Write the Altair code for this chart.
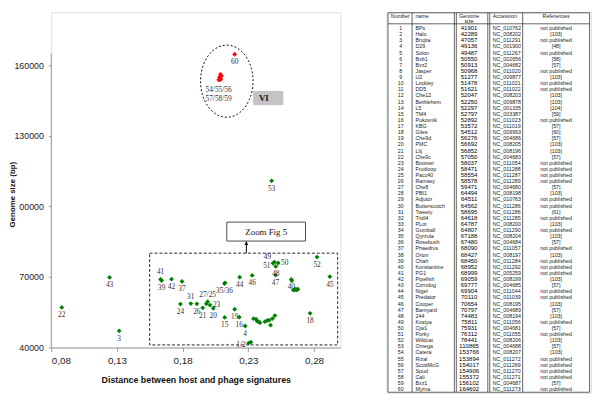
import altair as alt
import pandas as pd

# ---------------- data ----------------
numbers = list(range(1, 61))
names = ["BPs", "Halo", "Brujita", "D29", "Solon", "Bxb1", "Bxz2", "Jasper", "U2", "Lockley",
         "DD5", "Che12", "Bethlehem", "L5", "TM4", "Pukovnik", "KBG", "Giles", "Che9d", "PMC",
         "Llij", "Che9c", "Boomer", "Fruitloop", "Pacc40", "Ramsey", "Che8", "PBI1", "Adjutor", "Butterscotch",
         "Tweety", "Troll4", "PLot", "Gumball", "Qyrzula", "Rosebush", "Phaedrus", "Orion", "Chah", "Konstantine",
         "PG1", "Pipefish", "Corndog", "Nigel", "Predator", "Cooper", "Barnyard", "244", "Kostya", "Cjw1",
         "Porky", "Wildcat", "Omega", "Catera", "Rizal", "ScottMcG", "Spud", "Cali", "Bxz1", "Myrna"]
genome_sizes = [41901, 42289, 47057, 49136, 49487, 50550, 50913, 50968, 51277, 51478,
                51621, 52047, 52250, 52297, 52797, 52892, 53572, 54512, 56276, 56692,
                56852, 57050, 58037, 58471, 58554, 58578, 59471, 64494, 64511, 64562,
                58695, 64618, 64787, 64807, 67188, 67480, 68090, 68427, 68450, 68952,
                68999, 69059, 69777, 69904, 70110, 70654, 70797, 74483, 75811, 75931,
                76312, 78441, 110865, 153766, 153894, 154017, 154906, 155372, 156102, 164602]
accessions = ["NC_010762", "NC_008202", "NC_011291", "NC_001900", "NC_011267", "NC_002656", "NC_004682", "NC_011020", "NC_009877", "NC_011021",
              "NC_011022", "NC_008203", "NC_009878", "NC_001335", "NC_003387", "NC_011023", "NC_011019", "NC_009993", "NC_004686", "NC_008205",
              "NC_008196", "NC_004683", "NC_011054", "NC_011288", "NC_011287", "NC_011289", "NC_004680", "NC_008198", "NC_010763", "NC_011286",
              "NC_011286", "NC_011285", "NC_008200", "NC_011290", "NC_008204", "NC_004684", "NC_011057", "NC_008197", "NC_011284", "NC_011292",
              "NC_005259", "NC_008199", "NC_004685", "NC_011044", "NC_011039", "NC_008195", "NC_004689", "NC_008194", "NC_011056", "NC_004681",
              "NC_011055", "NC_008206", "NC_004688", "NC_008207", "NC_011272", "NC_011269", "NC_011270", "NC_011271", "NC_004687", "NC_011273"]
NP = "not published"
references = [NP, "[103]", NP, "[48]", NP, "[58]", "[57]", NP, "[103]", NP,
              NP, "[103]", "[103]", "[104]", "[59]", NP, "[57]", "[60]", "[57]", "[103]",
              "[103]", "[57]", NP, NP, NP, NP, "[57]", "[103]", NP, NP,
              "[61]", NP, "[103]", NP, "[103]", "[57]", NP, "[103]", NP, NP,
              NP, "[103]", "[57]", NP, NP, "[103]", "[57]", "[103]", NP, "[57]",
              NP, "[103]", "[57]", "[103]", NP, NP, NP, NP, "[57]", NP]
# distance between host and phage signatures
distances = [0.2302, 0.2319, 0.1317, 0.2276, 0.2469, 0.2389, 0.2379, 0.2426, 0.2366, 0.2444,
             0.2459, 0.2359, 0.2339, 0.2484, 0.2120, 0.2231, 0.2502, 0.2770, 0.2196, 0.2033,
             0.1953, 0.0880, 0.2008, 0.1783, 0.1980, 0.1908, 0.1990, 0.2642, 0.2653, 0.2665,
             0.1862, 0.2672, 0.2657, 0.2677, 0.2118, 0.2123, 0.1795, 0.2631, 0.1640, 0.2627,
             0.1632, 0.1715, 0.1244, 0.2234, 0.2920, 0.2329, 0.2507, 0.2509, 0.2488, 0.2527,
             0.2499, 0.2823, 0.2477, 0.2075, 0.2085, 0.2090, 0.2080, 0.2095, 0.2088, 0.2196]
cluster_VI = [54, 55, 56, 57, 58, 59, 60]

label_texts = ["1/2", "3", "4", "15", "16", "18", "19", "20", "21", "22", "23", "24", "26", "27/25", "31",
               "35/36", "37", "39", "40", "41", "42", "43", "44", "45", "46", "47", "48", "49", "50", "51",
               "52", "53", "54/55/56", "57/58/59", "60"]
label_anchors = [1, 3, 4, 15, 16, 18, 19, 20, 21, 22, 23, 24, 26, 27, 31,
                 35, 37, 39, 40, 41, 42, 43, 44, 45, 46, 47, 48, 49, 50, 51,
                 52, 53, 54, 54, 60]
label_places = ["left", "below", "below", "below", "below", "below", "below", "below", "below", "below",
                "right", "below", "below", "above", "above",
                "below", "below", "below", "below", "above", "below", "below", "below", "below", "below",
                "below", "below", "upleft", "right", "downleft",
                "below", "below", "cluster1", "cluster2", "below"]

x_ticks = [0.08, 0.13, 0.18, 0.23, 0.28]
y_ticks = [40000, 70000, 100000, 130000, 160000]

x_title = "Distance between host and phage signatures"
y_title = "Genome size (bp)"

# ---------------- styles ----------------
GREEN = "#008000"
RED = "#ff0000"
AXIS_GREY = "#9a9a9a"
SANS = "Liberation Sans"
SERIF = "Liberation Serif"

PLACES = {
    "below": dict(align="center", dx=0, dy=8),
    "above": dict(align="center", dx=0, dy=-7),
    "right": dict(align="left", dx=3, dy=0),
    "left": dict(align="right", dx=-3, dy=2),
    "upleft": dict(align="right", dx=-2, dy=-6.5),
    "downleft": dict(align="right", dx=-4, dy=4.5),
    "cluster1": dict(align="left", dx=-13.5, dy=10),
    "cluster2": dict(align="left", dx=-13.5, dy=19),
}

# ---------------- scatter ----------------
pts = pd.DataFrame({"num": numbers, "x": distances, "y": genome_sizes})
pts["group"] = ["VI" if n in cluster_VI else "other" for n in numbers]

lab = pd.DataFrame({"text": label_texts, "num": label_anchors, "place": label_places})
lab = lab.merge(pts[["num", "x", "y"]], on="num", how="left")

xscale = alt.Scale(domain=[0.08, 0.30], nice=False, zero=False)
yscale = alt.Scale(domain=[40000, 182500], nice=False, zero=False)
xaxis = alt.Axis(title=x_title, values=x_ticks, grid=False,
                 labelExpr="replace(format(datum.value, '.2f'), '.', ',')",
                 domainColor=AXIS_GREY, tickColor=AXIS_GREY, tickSize=4,
                 labelFont=SANS, labelFontSize=10, labelColor="#222", labelPadding=4,
                 titleFont=SANS, titleFontSize=9, titleFontWeight="bold", titleColor="#111",
                 titleBaseline="top", titleY=29)
yaxis = alt.Axis(title=y_title, values=y_ticks, grid=False, domain=False,
                 labelExpr="datum.value == 100000 ? '00000' : format(datum.value, 'd')",
                 tickColor=AXIS_GREY, tickSize=3,
                 labelFont=SANS, labelFontSize=9, labelColor="#222", labelPadding=5,
                 titleFont=SANS, titleFontSize=8, titleFontWeight="bold", titleColor="#111",
                 titleBaseline="middle", titleX=-39, titleY=185)


def X(field):
    return alt.X(field, type="quantitative", scale=xscale, axis=xaxis)


def Y(field):
    return alt.Y(field, type="quantitative", scale=yscale, axis=yaxis)


# y axis line (only up to 165000 as in the reference)
yline = alt.Chart(pd.DataFrame({"x": [0.08], "y": [40000], "y2": [165000]})).mark_rule(
    color=AXIS_GREY, strokeWidth=1).encode(x=X("x"), y=Y("y"), y2="y2:Q")

# annotation shapes (data units)
zoom_region = alt.Chart(pd.DataFrame({"x": [0.1549], "x2": [0.2980], "y": [41100], "y2": [80100]})).mark_rect(
    fillOpacity=0, stroke="#222", strokeWidth=1, strokeDash=[3, 2]).encode(
    x=X("x"), x2="x2:Q", y=Y("y"), y2="y2:Q")

arrow = alt.Chart(pd.DataFrame({"x": [0.2285], "y": [80100], "y2": [85000]})).mark_rule(
    color="#000", strokeWidth=1).encode(x=X("x"), y=Y("y"), y2="y2:Q")
arrow_head = alt.Chart(pd.DataFrame({"x": [0.2285], "y": [84300]})).mark_point(
    shape="triangle-up", filled=True, color="#000", size=16, opacity=1).encode(x=X("x"), y=Y("y"))

zoom_box = alt.Chart(pd.DataFrame({"x": [0.2136], "x2": [0.2735], "y": [85250], "y2": [93300]})).mark_rect(
    fill="white", stroke="#222", strokeWidth=0.8).encode(x=X("x"), x2="x2:Q", y=Y("y"), y2="y2:Q")
zoom_text = alt.Chart(pd.DataFrame({"x": [0.2436], "y": [89275], "t": ["Zoom Fig 5"]})).mark_text(
    font=SERIF, fontSize=9, color="#111", baseline="middle", align="center").encode(
    x=X("x"), y=Y("y"), text="t:N")

k = 0.5523
a = 0.7275
ka = round(k * a, 4)
ellipse_path = (f"M 0 -1 C {ka} -1 {a} -{k} {a} 0 C {a} {k} {ka} 1 0 1 "
                f"C -{ka} 1 -{a} {k} -{a} 0 C -{a} -{k} -{ka} -1 0 -1 Z")
ellipse = alt.Chart(pd.DataFrame({"x": [0.2136], "y": [153200]})).mark_point(
    shape=ellipse_path, size=5388, filled=False, stroke="#111", strokeWidth=1,
    strokeDash=[2, 2], opacity=1).encode(x=X("x"), y=Y("y"))

vi_box = alt.Chart(pd.DataFrame({"x": [0.2336], "x2": [0.2566], "y": [143030], "y2": [149046]})).mark_rect(
    fill="#c4c4c4").encode(x=X("x"), x2="x2:Q", y=Y("y"), y2="y2:Q")
vi_text = alt.Chart(pd.DataFrame({"x": [0.2381], "y": [146036], "t": ["VI"]})).mark_text(
    font=SERIF, fontSize=9, fontWeight="bold", color="#111", baseline="middle", align="left").encode(
    x=X("x"), y=Y("y"), text="t:N")

points = alt.Chart(pts).mark_point(shape="diamond", filled=True, size=24, opacity=1).encode(
    x=X("x"), y=Y("y"),
    color=alt.Color("group:N", scale=alt.Scale(domain=["other", "VI"], range=[GREEN, RED]), legend=None))

label_layers = []
for place, style in PLACES.items():
    label_layers.append(
        alt.Chart(lab).transform_filter(alt.datum.place == place).mark_text(
            font=SERIF, fontSize=7.5, color="#333", baseline="middle", **style).encode(
            x=X("x"), y=Y("y"), text="text:N"))

scatter = alt.layer(yline, zoom_region, arrow, zoom_box, zoom_text, arrow_head, ellipse,
                    vi_box, vi_text, points, *label_layers).properties(width=294, height=341)

# ---------------- table ----------------
TW, TH = 208, 387
tx = alt.Scale(domain=[0, TW], nice=False, zero=False)
ty = alt.Scale(domain=[-1.5926, 60.572], reverse=True, nice=False, zero=False)

tbl = pd.DataFrame({"row": numbers, "num": [str(n) for n in numbers], "name": names,
                    "size": [str(s) for s in genome_sizes], "acc": accessions, "ref": references})

# column layout in table pixels: (field, x, align, font size, colour)
COLUMNS = [("num", 14.5, "center", 5.4, "#222"),
           ("name", 29.5, "left", 5.4, "#222"),
           ("size", 84, "center", 6.1, "#000"),
           ("acc", 108, "left", 5.4, "#222"),
           ("ref", 172.5, "center", 5.4, "#222")]
header = pd.DataFrame({"t": ["Number", "name", "Genome", "size", "Accession", "References"],
                       "x": [14, 29.5, 84, 84, 108, 172.5],
                       "row": [-1.04, -1.04, -1.04, -0.18, -1.04, -1.04],
                       "al": ["center", "left", "center", "center", "left", "center"]})
vlines = pd.DataFrame({"x": [1.5, 26, 69, 71, 103, 105, 138.5, 206.5],
                       "r1": [-1.512] * 8, "r2": [60.49] * 8})
hlines = pd.DataFrame({"x1": [1.5, 1.5, 1.5], "x2": [206.5, 206.5, 206.5], "r": [-1.512, 0.293, 60.49]})

tlayers = []
for field, cx, align, fs, col in COLUMNS:
    tlayers.append(alt.Chart(tbl).transform_calculate(cx=str(cx)).mark_text(
        font=SANS, fontSize=fs, color=col, align=align, baseline="middle").encode(
        x=alt.X("cx:Q", scale=tx, axis=None), y=alt.Y("row:Q", scale=ty, axis=None),
        text=f"{field}:N"))
for al in ["center", "left"]:
    tlayers.append(alt.Chart(header).transform_filter(alt.datum.al == al).mark_text(
        font=SANS, fontSize=5.4, color="#222", align=al, baseline="middle").encode(
        x=alt.X("x:Q", scale=tx, axis=None), y=alt.Y("row:Q", scale=ty, axis=None), text="t:N"))
tlayers.append(alt.Chart(vlines).mark_rule(color="#222", strokeWidth=0.7).encode(
    x=alt.X("x:Q", scale=tx, axis=None), y=alt.Y("r1:Q", scale=ty, axis=None), y2="r2:Q"))
tlayers.append(alt.Chart(hlines).mark_rule(color="#222", strokeWidth=0.7).encode(
    x=alt.X("x1:Q", scale=tx, axis=None), x2="x2:Q", y=alt.Y("r:Q", scale=ty, axis=None)))

table = alt.layer(*tlayers).properties(width=TW, height=TH)

chart = alt.hconcat(scatter, table, spacing=47, bounds="flush").properties(
    padding={"left": 0, "top": 0, "right": 0, "bottom": 0}
).configure_view(strokeOpacity=0).configure(background="white")

chart.save("out.html", embed_options={"renderer": "svg", "actions": False})
